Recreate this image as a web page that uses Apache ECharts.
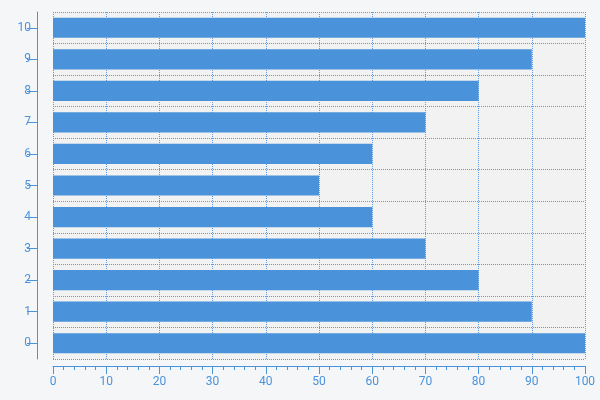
<!DOCTYPE html>
<html><head><meta charset="utf-8">
<script src="https://cdn.jsdelivr.net/npm/echarts@6/dist/echarts.min.js"></script>
<style>html,body{margin:0;padding:0;background:#f5f6f8}#c{width:600px;height:400px}</style>
</head><body><div id="c"></div>
<script>
const categories = ['0','1','2','3','4','5','6','7','8','9','10'];
const values = [100,90,80,70,60,50,60,70,80,90,100];
const xTicks = [0,10,20,30,40,50,60,70,80,90,100];
const blue = '#4a93db';
const chart = echarts.init(document.getElementById('c'));
chart.setOption({
  backgroundColor:'#f5f6f8',
  animation:false,
  grid:{left:53,right:15,top:12,bottom:41,show:true,backgroundColor:'#f2f2f2',borderWidth:0},
  xAxis:{type:'value',min:xTicks[0],max:xTicks[xTicks.length-1],interval:10,offset:7,
    axisLine:{show:true,onZero:false,lineStyle:{color:blue}},
    axisTick:{show:true,length:8,lineStyle:{color:blue}},
    minorTick:{show:true,splitNumber:5,length:4,lineStyle:{color:blue}},
    axisLabel:{color:blue,fontFamily:'Roboto',fontSize:12,margin:10},
    splitLine:{show:true,lineStyle:{color:'#5b9be0',type:'dotted'}}},
  yAxis:{type:'category',data:categories,offset:16,
    axisLine:{show:true,onZero:false,lineStyle:{color:blue}},
    axisTick:{show:true,alignWithLabel:true,length:10,lineStyle:{color:blue}},
    axisLabel:{color:blue,fontFamily:'Roboto',fontSize:12,margin:6},
    splitLine:{show:true,lineStyle:{color:'#5b9be0',type:'dotted'}}},
  series:[{type:'bar',data:values,barCategoryGap:'36%',itemStyle:{color:blue}}]
});
</script></body></html>
